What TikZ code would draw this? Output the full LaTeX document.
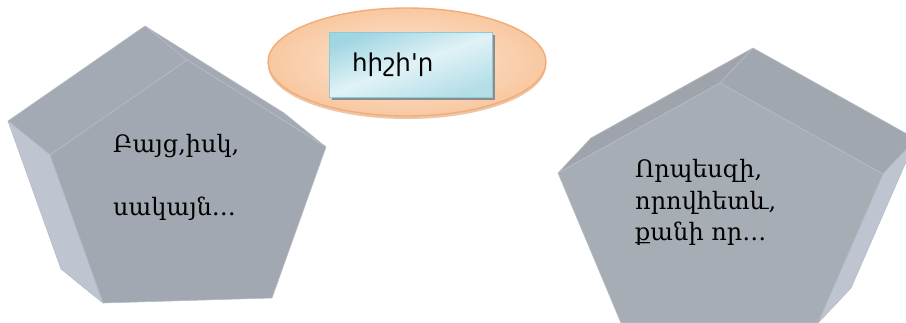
\documentclass[tikz,border=0pt]{standalone}
\usepackage{fontspec}
\newfontfamily\armserif{DejaVu Serif}
\newfontfamily\armsans[Ligatures=TeXOff]{DejaVu Sans}
\definecolor{frontgrey}{RGB}{162,168,177}
\definecolor{frontgreyR}{RGB}{167,173,181}
\definecolor{topgrey}{RGB}{164,170,179}
\definecolor{topgreyR}{RGB}{161,167,175}
\definecolor{sidegrey}{RGB}{190,197,208}
\definecolor{edgegrey}{RGB}{182,188,197}
\definecolor{ellfill}{RGB}{253,232,216}
\definecolor{ellouter}{RGB}{248,200,160}
\definecolor{ellborder}{RGB}{243,172,120}
\definecolor{ellshadow}{RGB}{222,160,110}
\definecolor{boxlight}{RGB}{224,242,246}
\definecolor{boxdark}{RGB}{160,213,226}
\definecolor{boxborder}{RGB}{143,202,216}
\definecolor{boxshadow}{RGB}{140,140,140}
\tikzset{
  face/.style={fill=#1, draw=edgegrey, line width=0.6pt, line join=round},
  armtext/.style={font=\armserif\fontsize{24}{28}\selectfont, text=black, inner sep=0pt},
}
\begin{document}
\begin{tikzpicture}[x=1pt,y=-1pt]
\useasboundingbox (0,0) rectangle (906,322);
% ---------- left pentagon ----------
\coordinate (F1) at (187,60);
\coordinate (F2) at (326,147);
\coordinate (F3) at (272,298);
\coordinate (F4) at (103,303);
\coordinate (F5) at (50,155);
\coordinate (B1) at (145,26);
\coordinate (B2) at (284,113);
\coordinate (B4) at (61,269);
\coordinate (B5) at (8,121);
\path[face=topgrey] (B5) -- (B1) -- (F1) -- (F5) -- cycle;
\path[face=topgrey] (B1) -- (B2) -- (F2) -- (F1) -- cycle;
\path[face=sidegrey] (B5) -- (F5) -- (F4) -- (B4) -- cycle;
\path[face=frontgrey] (F1) -- (F2) -- (F3) -- (F4) -- (F5) -- cycle;
\node[armtext, anchor=base west] (l1) at (113,152) {Բայց,իսկ,};
\node[armtext, anchor=base west] (l2) at (113,215) {սակայն…};
% ---------- right pentagon ----------
\coordinate (G1) at (720,83);
\coordinate (G2) at (883,174);
\coordinate (G3) at (818,323);
\coordinate (G4) at (621,323);
\coordinate (G5) at (558,173);
\coordinate (C1) at (753,48);
\coordinate (C2) at (916,139);
\coordinate (C3) at (851,288);
\coordinate (C5) at (591,138);
\path[face=frontgreyR!95!black] (C5) -- (C1) -- (G1) -- (G5) -- cycle;
\path[face=topgreyR] (C1) -- (C2) -- (G2) -- (G1) -- cycle;
\path[face=sidegrey] (G2) -- (C2) -- (C3) -- (G3) -- cycle;
\path[face=frontgreyR] (G1) -- (G2) -- (G3) -- (G4) -- (G5) -- cycle;
\node[armtext, anchor=base west] (r1) at (635,177) {Որպեսզի,};
\node[armtext, anchor=base west] (r2) at (635,209) {որովհետև,};
\node[armtext, anchor=base west] (r3) at (635,240) {քանի որ…};
% ---------- top ellipse ----------
\fill[ellshadow, opacity=0.6] (407,65) ellipse [x radius=139, y radius=54];
\shade[inner color=ellfill, outer color=ellouter, draw=ellborder, line width=1.4pt]
  (407,62) ellipse [x radius=139, y radius=54];
\fill[boxshadow] (332,35) rectangle (495,100);
\shade[left color=boxdark, right color=boxdark!70!boxlight, middle color=boxlight, shading angle=20, draw=boxborder, line width=1pt]
  (329,32) rectangle (492,97);
\node[font=\armsans\fontsize{24.5}{28}\selectfont, anchor=base west, inner sep=0pt] (t) at (352,71) {հիշի'ր};
\end{tikzpicture}
\end{document}
